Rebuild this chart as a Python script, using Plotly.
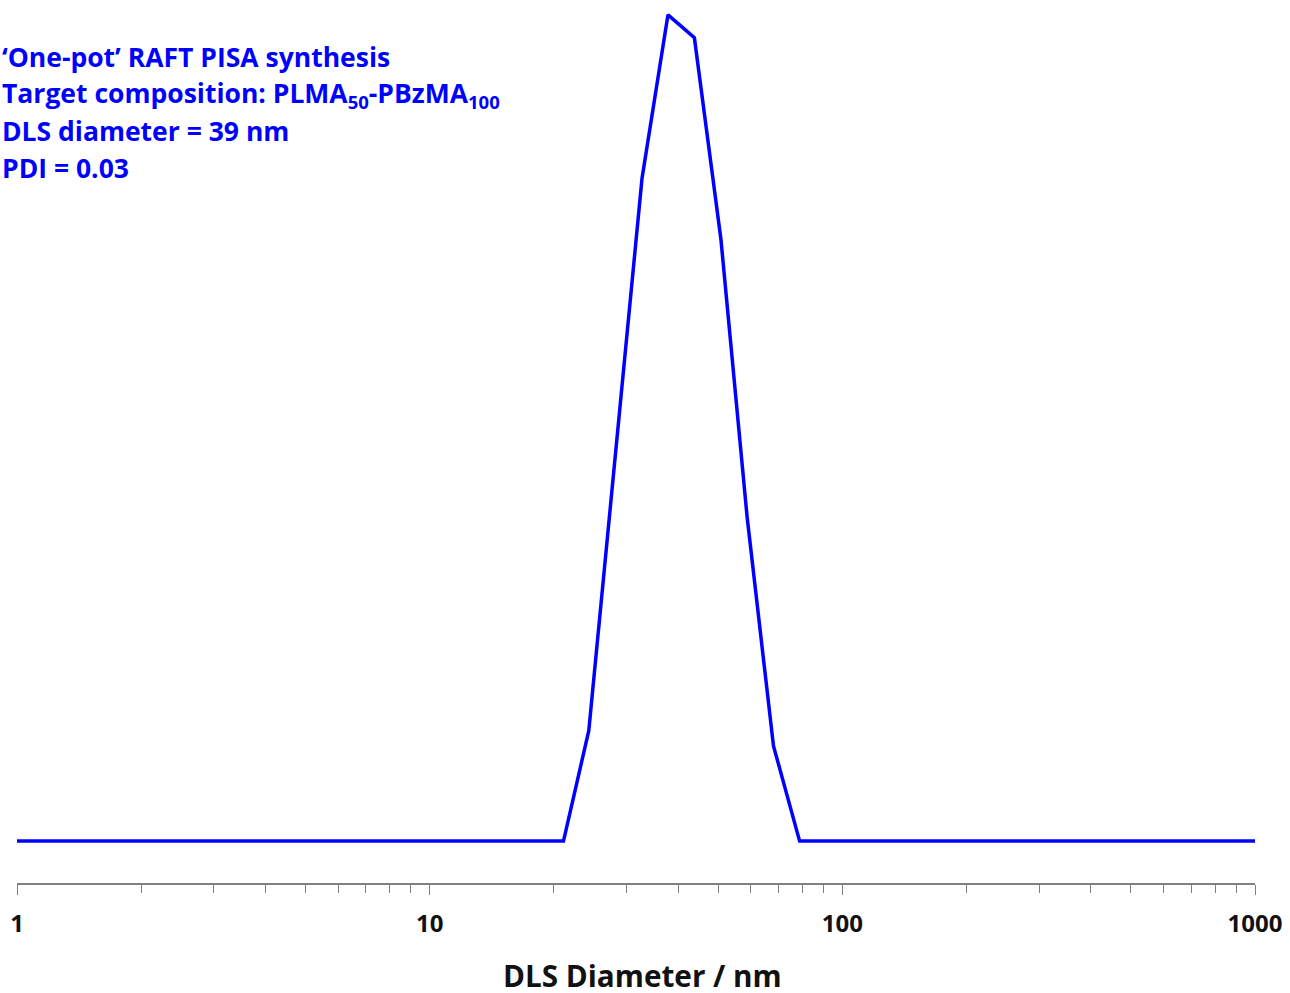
import plotly.graph_objects as go

# DLS intensity distribution
diameter_nm = [1, 21.1, 24.3, 32.7, 37.8, 43.8, 50.8, 58.8, 68.1, 78.8, 1000]
intensity = [0, 0, 2.9, 17.4, 21.7, 21.1, 15.8, 8.5, 2.5, 0, 0]

major_ticks = [1, 10, 100, 1000]
major_labels = ["1", "10", "100", "1000"]
minor_ticks = [m * d for d in [1, 10, 100] for m in range(2, 10)]

x_title = "DLS Diameter / nm"
text_lines = [
    "\u2018One-pot\u2019 RAFT PISA synthesis",
    "Target composition: PLMA<sub>50</sub>-PBzMA<sub>100</sub>",
    "DLS diameter = 39 nm",
    "PDI = 0.03",
]

W, H = 1290, 993
ml, mr, mt, mb = 17, 35, 0, 110
plot_h = H - mt - mb
plot_w = W - ml - mr

fig = go.Figure()
fig.add_trace(go.Scatter(
    x=diameter_nm, y=intensity, mode="lines",
    line=dict(color="#0000FF", width=3.5),
    showlegend=False, hoverinfo="skip",
))

font_family = "'Open Sans', sans-serif"
line_px = [57, 94, 131, 168]
for txt, py in zip(text_lines, line_px):
    fig.add_annotation(
        text=txt, xref="paper", yref="paper",
        x=-ml / plot_w, y=1 - (py - mt) / plot_h,
        xanchor="left", yanchor="middle", showarrow=False,
        font=dict(family=font_family, size=26.5, color="#0000FF", weight="bold"),
        align="left",
    )

# x-axis title placed as an annotation (centre at ~x=642px, y=975px)
fig.add_annotation(
    text=x_title, xref="paper", yref="paper",
    x=(642 - ml) / plot_w, y=1 - (975 - mt) / plot_h,
    xanchor="center", yanchor="middle", showarrow=False, borderpad=0,
    font=dict(family=font_family, size=29.7, color="#111111", weight="bold"),
)

fig.update_layout(
    width=W, height=H,
    margin=dict(l=ml, r=mr, t=mt, b=mb),
    paper_bgcolor="white", plot_bgcolor="white",
    xaxis=dict(
        type="log", range=[0, 3],
        tickmode="array", tickvals=major_ticks, ticktext=major_labels,
        ticks="outside", ticklen=10, tickwidth=1.2, tickcolor="#7f7f7f",
        showline=True, linecolor="#7f7f7f", linewidth=1.5,
        showgrid=False, zeroline=False,
        tickfont=dict(family=font_family, size=24, color="#111111", weight="bold"),
        ticklabelstandoff=8,
        minor=dict(tickmode="array", tickvals=minor_ticks, ticks="outside",
                   ticklen=8, tickwidth=1.2, tickcolor="#7f7f7f", showgrid=False),
    ),
    yaxis=dict(
        range=[-1.10, 22.09], visible=False, showgrid=False, zeroline=False,
    ),
)

fig.write_html(
    "out.html",
    config={"displayModeBar": False},
    post_script="document.body.style.margin='0';document.body.style.padding='0';",
)
